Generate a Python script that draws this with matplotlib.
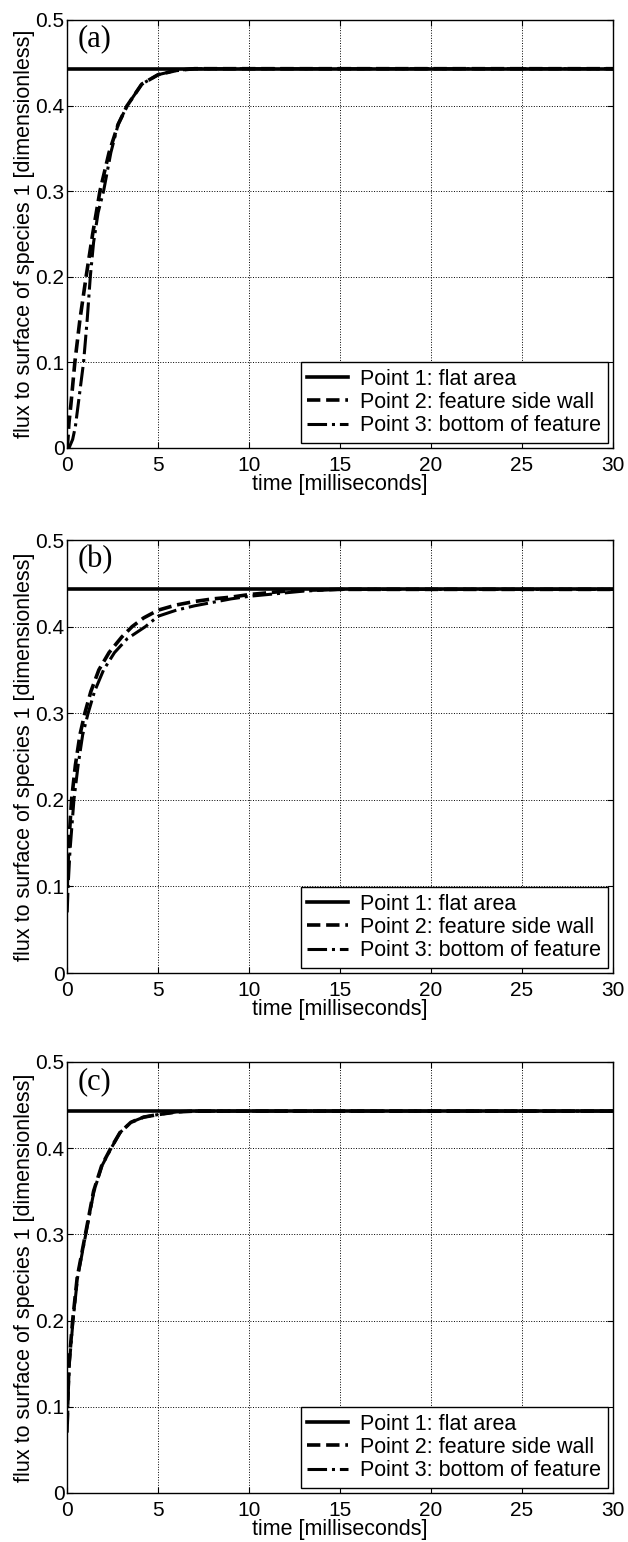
import numpy as np
from matplotlib import pyplot as plt

plt.rcParams['font.family'] = ['Liberation Sans', 'DejaVu Sans']

# flat area value (point 1)
flat_level = 0.443
time_range = [0, 30]

# panel (a)
a_t2 = [0, 0.1, 0.2, 0.42, 0.7, 1.04, 1.4, 1.8, 2.3, 2.8, 3.3, 4.1, 5.0, 6.0, 7.0, 8.0, 10, 15, 20, 30]
a_y2 = [0, 0.03, 0.05, 0.1, 0.15, 0.2, 0.25, 0.3, 0.345, 0.378, 0.4, 0.425, 0.436, 0.441, 0.443, 0.443, 0.443, 0.443, 0.443, 0.443]
a_t3 = [0, 0.1, 0.3, 0.45, 0.6, 0.75, 0.9, 1.1, 1.27, 1.45, 1.7, 2.0, 2.4, 2.8, 3.3, 4.1, 5.0, 6.0, 7.0, 8.0, 10, 15, 20, 30]
a_y3 = [0, 0.0, 0.01, 0.025, 0.05, 0.075, 0.1, 0.15, 0.2, 0.24, 0.275, 0.3, 0.345, 0.378, 0.4, 0.425, 0.436, 0.441, 0.443, 0.443, 0.443, 0.443, 0.443, 0.443]

# panel (b)
b_t2 = [0, 0.05, 0.12, 0.24, 0.45, 0.7, 0.97, 1.3, 1.74, 2.3, 3.0, 3.57, 4.2, 5.0, 6.0, 7.0, 8.0, 9.0, 10, 11, 12, 13, 15, 20, 30]
b_y2 = [0.1, 0.13, 0.16, 0.2, 0.24, 0.275, 0.3, 0.325, 0.35, 0.37, 0.388, 0.4, 0.41, 0.419, 0.425, 0.429, 0.432, 0.434, 0.437, 0.439, 0.441, 0.442, 0.443, 0.443, 0.443]
b_t3 = [0, 0.05, 0.15, 0.37, 0.6, 0.85, 1.15, 1.5, 2.0, 2.6, 3.3, 4.3, 5.0, 6.0, 7.0, 8.0, 9.0, 10, 11, 12, 13, 14, 15, 20, 30]
b_y3 = [0.07, 0.1, 0.14, 0.2, 0.24, 0.275, 0.3, 0.325, 0.35, 0.37, 0.386, 0.4, 0.412, 0.419, 0.424, 0.428, 0.432, 0.435, 0.437, 0.439, 0.441, 0.442, 0.443, 0.443, 0.443]

# panel (c)
c_t2 = [0, 0.05, 0.1, 0.3, 0.55, 1.0, 1.45, 1.9, 2.4, 2.9, 3.5, 4.2, 5.0, 6.0, 7.0, 10, 15, 20, 30]
c_y2 = [0.08, 0.12, 0.15, 0.2, 0.25, 0.3, 0.35, 0.38, 0.4, 0.418, 0.43, 0.436, 0.439, 0.442, 0.443, 0.443, 0.443, 0.443, 0.443]
c_t3 = [0, 0.05, 0.12, 0.32, 0.57, 1.02, 1.47, 1.92, 2.42, 2.9, 3.5, 4.2, 5.0, 6.0, 7.0, 10, 15, 20, 30]
c_y3 = [0.07, 0.11, 0.15, 0.2, 0.25, 0.3, 0.35, 0.38, 0.4, 0.418, 0.43, 0.436, 0.439, 0.442, 0.443, 0.443, 0.443, 0.443, 0.443]

panels = [
    ('(a)', a_t2, a_y2, a_t3, a_y3),
    ('(b)', b_t2, b_y2, b_t3, b_y3),
    ('(c)', c_t2, c_y2, c_t3, c_y3),
]
legend_labels = ['Point 1: flat area', 'Point 2: feature side wall', 'Point 3: bottom of feature']

fig = plt.figure(figsize=(6.28, 15.42), dpi=100)
boxes = [[0.107, 0.7095, 0.869, 0.2776],
         [0.107, 0.369, 0.869, 0.2808],
         [0.107, 0.0318, 0.869, 0.2795]]

for box, (tag, t2, y2, t3, y3) in zip(boxes, panels):
    ax = fig.add_axes(box)
    ax.plot(time_range, [flat_level, flat_level], '-', color='black', lw=2.6, label=legend_labels[0])
    ax.plot(t2, y2, '--', color='black', lw=2.6, label=legend_labels[1])
    ax.plot(t3, y3, '-.', color='black', lw=2.2, label=legend_labels[2])
    ax.set_xlim(0, 30)
    ax.set_ylim(0, 0.5)
    ax.set_xticks([0, 5, 10, 15, 20, 25, 30])
    ax.set_yticks([0, 0.1, 0.2, 0.3, 0.4, 0.5])
    ax.set_yticklabels(['0', '0.1', '0.2', '0.3', '0.4', '0.5'])
    ax.grid(True, linestyle=':', color='black', linewidth=0.7)
    ax.tick_params(direction='in', top=True, right=True, labelsize=15, length=4)
    ax.tick_params(axis='x', pad=6)
    ax.tick_params(axis='y', pad=2)
    for s in ax.spines.values():
        s.set_linewidth(1.0)
    ax.set_xlabel('time [milliseconds]', fontsize=15.5, labelpad=-1)
    ax.set_ylabel('flux to surface of species 1 [dimensionless]', fontsize=15.5, labelpad=0)
    ax.text(0.02, 0.955, tag, transform=ax.transAxes, fontsize=22,
            family='Liberation Serif', va='center', ha='left')
    leg = ax.legend(loc='lower right', fontsize=15.5, fancybox=False, framealpha=1,
                    edgecolor='black', borderaxespad=0.25, handlelength=1.9,
                    handletextpad=0.55, labelspacing=0.1, borderpad=0.3)
    leg.get_frame().set_linewidth(1.0)

plt.savefig('out.png', dpi=100)
